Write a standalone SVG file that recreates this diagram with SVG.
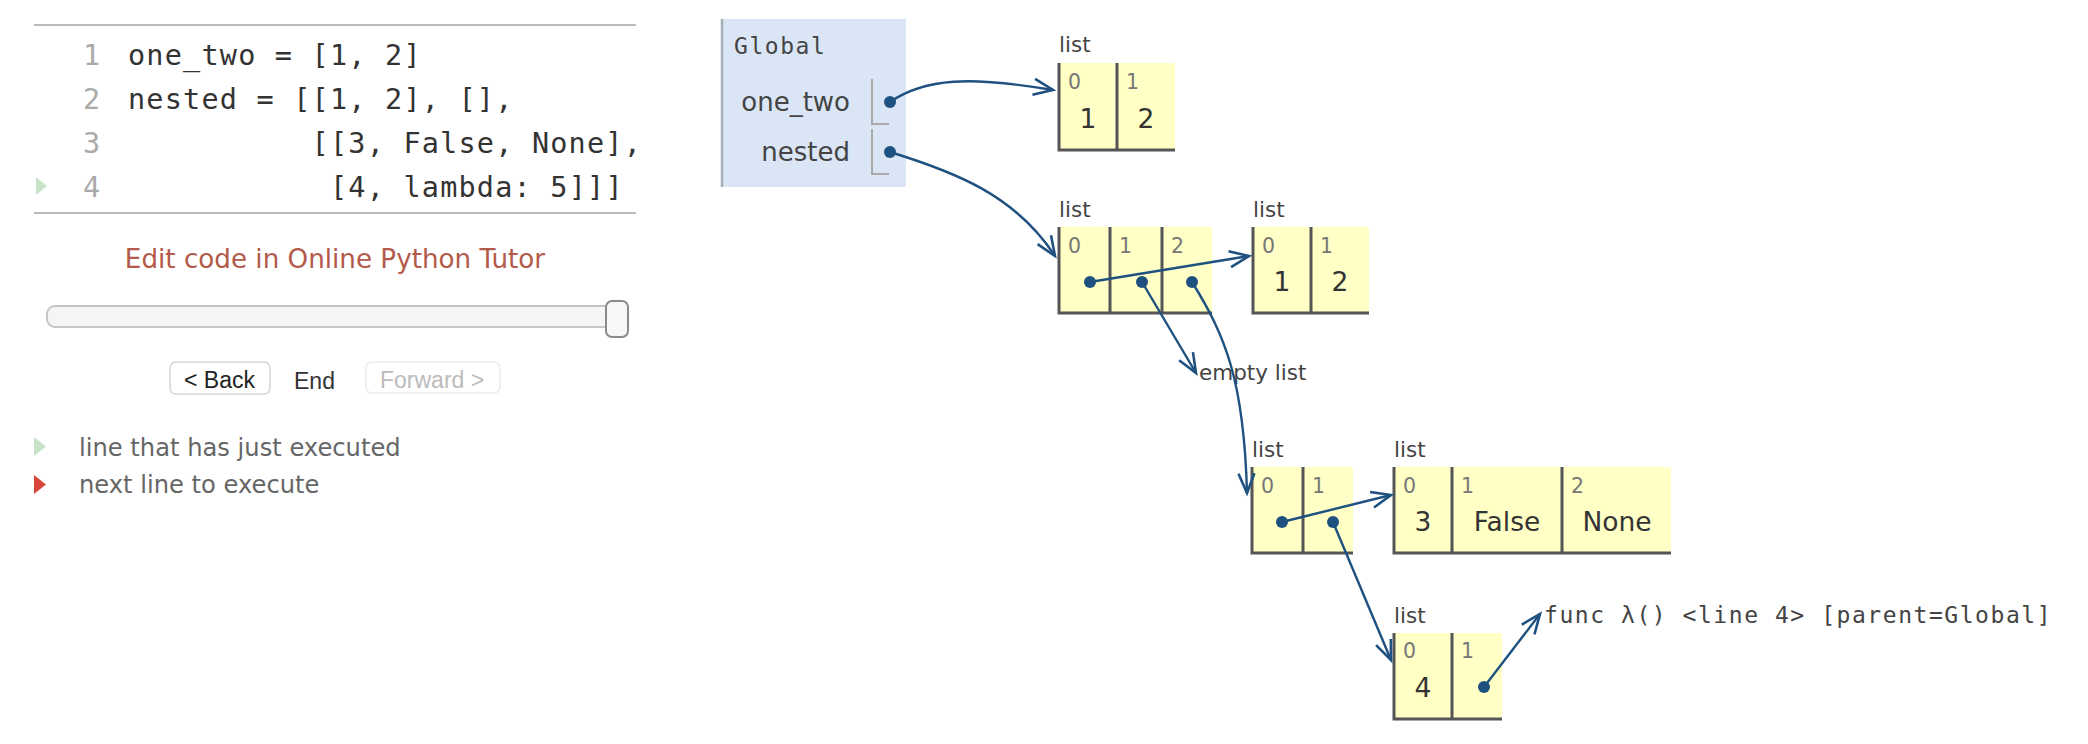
<svg xmlns="http://www.w3.org/2000/svg" width="2088" height="744" viewBox="0 0 2088 744">
<style>
.code{font-family:"DejaVu Sans Mono","Liberation Mono",monospace;font-size:28.5px;letter-spacing:1.2px;fill:#333}
.lno{font-family:"DejaVu Sans Mono","Liberation Mono",monospace;font-size:28.5px;fill:#aaa}
.mono{font-family:"DejaVu Sans Mono","Liberation Mono",monospace;font-size:23px;letter-spacing:1.55px;fill:#444}
.sans{font-family:"DejaVu Sans",Verdana,sans-serif}
.btn{font-family:"Liberation Sans",Arial,sans-serif;font-size:23px}
.hr{stroke:#bbb;stroke-width:2}
.var{font-family:"DejaVu Sans",Verdana,sans-serif;font-size:26px;fill:#444;text-anchor:end}
.brk{fill:none;stroke:#aaa;stroke-width:2}
.lbl{font-family:"DejaVu Sans",Verdana,sans-serif;font-size:21.5px;fill:#444}
.idx{font-family:"DejaVu Sans",Verdana,sans-serif;font-size:20.5px;fill:#777}
.val{font-family:"DejaVu Sans",Verdana,sans-serif;font-size:26.5px;fill:#333;text-anchor:middle}
.cell{fill:#ffffc6}
.bd{stroke:#555;stroke-width:3;fill:none}
.dot{fill:#1f5180}
.conn{fill:none;stroke:#1f5180;stroke-width:2.4;marker-end:url(#arr)}
</style>
<defs>
<marker id="arr" markerUnits="userSpaceOnUse" markerWidth="26" markerHeight="22" refX="21" refY="10" orient="auto">
<path d="M1.5,2 L21,10 L1.5,18" fill="none" stroke="#1f5180" stroke-width="2.6" stroke-linejoin="miter"/>
</marker>
</defs>
<rect width="2088" height="744" fill="#fff"/>

<g id="code">
<line class="hr" x1="34" y1="25" x2="636" y2="25"/>
<line class="hr" x1="34" y1="213" x2="636" y2="213"/>
<text class="lno" x="83" y="65">1</text>
<text class="lno" x="83" y="109">2</text>
<text class="lno" x="83" y="153">3</text>
<text class="lno" x="83" y="197">4</text>
<polygon points="36,177 36,195 47,186" fill="#c8e3c8"/>
<text class="code" x="128" y="65">one_two = [1, 2]</text>
<text class="code" x="128" y="109">nested = [[1, 2], [],</text>
<text class="code" x="311.6" y="153">[[3, False, None],</text>
<text class="code" x="330" y="197">[4, lambda: 5]]]</text>
</g>

<g id="controls">
<text class="sans" x="335" y="268" font-size="26.2" fill="#b35a4a" text-anchor="middle">Edit code in Online Python Tutor</text>
<rect x="47" y="306" width="580" height="21" rx="8" fill="#f5f5f5" stroke="#c5c5c5" stroke-width="2"/>
<rect x="606" y="301" width="22" height="36" rx="6" fill="#f7f7f7" stroke="#8a8a8a" stroke-width="2"/>
<rect x="170" y="362" width="100" height="32" rx="6" fill="#fff" stroke="#d6d6d6" stroke-width="1.5"/>
<text class="btn" x="184" y="388" fill="#222">&lt; Back</text>
<text class="btn" x="294" y="389" font-size="29" fill="#333">End</text>
<rect x="366" y="362" width="134" height="31" rx="6" fill="#fff" stroke="#ebebeb" stroke-width="1.5"/>
<text class="btn" x="380" y="388" fill="#bbb">Forward &gt;</text>
</g>

<g id="legend">
<polygon points="34,437 34,456 46,446.5" fill="#c8e3c8"/>
<text class="sans" x="79" y="455.5" font-size="24.2" fill="#666">line that has just executed</text>
<polygon points="34,475 34,494 46,484.5" fill="#d9473a"/>
<text class="sans" x="79" y="492.5" font-size="24.2" fill="#666">next line to execute</text>
</g>

<g id="frame-global">
<rect x="721" y="19" width="185" height="168" fill="#dae6f6"/>
<line x1="722" y1="19" x2="722" y2="187" stroke="#a5adb6" stroke-width="2.5"/>
<text class="mono" x="734" y="54">Global</text>
<text class="var" x="850" y="111">one_two</text>
<path class="brk" d="M872 79 V124 H889"/>
<text class="var" x="850" y="161">nested</text>
<path class="brk" d="M872 129 V174 H889"/>
<circle class="dot" cx="890" cy="102" r="6"/>
<circle class="dot" cx="890" cy="152" r="6"/>
</g>

<g id="list-one_two">
<text class="lbl" x="1059" y="52">list</text>
<rect class="cell" x="1059" y="63" width="116" height="87"/>
<path class="bd" d="M1059 63 V150 H1175 M1117 63 V150"/>
<text class="idx" x="1068" y="89">0</text>
<text class="idx" x="1126" y="89">1</text>
<text class="val" x="1088" y="128">1</text>
<text class="val" x="1146" y="128">2</text>
</g>

<g id="list-nested">
<text class="lbl" x="1059" y="217">list</text>
<rect class="cell" x="1059" y="227" width="153" height="86"/>
<path class="bd" d="M1059 227 V313 H1212 M1110 227 V313 M1162 227 V313"/>
<text class="idx" x="1068" y="253">0</text>
<text class="idx" x="1119" y="253">1</text>
<text class="idx" x="1171" y="253">2</text>
<circle class="dot" cx="1090" cy="282" r="6"/>
<circle class="dot" cx="1142" cy="282" r="6"/>
<circle class="dot" cx="1192" cy="282" r="6"/>
</g>

<g id="list-12">
<text class="lbl" x="1253" y="217">list</text>
<rect class="cell" x="1253" y="227" width="116" height="86"/>
<path class="bd" d="M1253 227 V313 H1369 M1311 227 V313"/>
<text class="idx" x="1262" y="253">0</text>
<text class="idx" x="1320" y="253">1</text>
<text class="val" x="1282" y="291">1</text>
<text class="val" x="1340" y="291">2</text>
</g>

<g id="empty-list">
<text class="lbl" x="1199" y="380">empty list</text>
</g>

<g id="list-inner">
<text class="lbl" x="1252" y="457">list</text>
<rect class="cell" x="1252" y="467" width="101" height="86"/>
<path class="bd" d="M1252 467 V553 H1353 M1303 467 V553"/>
<text class="idx" x="1261" y="493">0</text>
<text class="idx" x="1312" y="493">1</text>
<circle class="dot" cx="1282" cy="522" r="6"/>
<circle class="dot" cx="1333" cy="522" r="6"/>
</g>

<g id="list-3-false-none">
<text class="lbl" x="1394" y="457">list</text>
<rect class="cell" x="1394" y="467" width="277" height="86"/>
<path class="bd" d="M1394 467 V553 H1671 M1452 467 V553 M1562 467 V553"/>
<text class="idx" x="1403" y="493">0</text>
<text class="idx" x="1461" y="493">1</text>
<text class="idx" x="1571" y="493">2</text>
<text class="val" x="1423" y="531">3</text>
<text class="val" x="1507" y="531">False</text>
<text class="val" x="1617" y="531">None</text>
</g>

<g id="list-4-lambda">
<text class="lbl" x="1394" y="623">list</text>
<rect class="cell" x="1394" y="633" width="108" height="86"/>
<path class="bd" d="M1394 633 V719 H1502 M1452 633 V719"/>
<text class="idx" x="1403" y="658">0</text>
<text class="idx" x="1461" y="658">1</text>
<text class="val" x="1423" y="697">4</text>
<circle class="dot" cx="1484" cy="687" r="6"/>
</g>

<g id="func-lambda">
<text class="mono" x="1544" y="623">func λ() &lt;line 4&gt; [parent=Global]</text>
</g>

<g id="connectors">
<path class="conn" d="M890 102 C925 78, 970 76, 1053 90"/>
<path class="conn" d="M890 152 C955 172, 1015 195, 1055 256"/>
<path class="conn" d="M1090 282 L1249 256"/>
<path class="conn" d="M1142 282 L1196 373"/>
<path class="conn" d="M1192 282 C1225 335, 1244 380, 1247 493"/>
<path class="conn" d="M1282 522 L1391 495"/>
<path class="conn" d="M1333 522 L1391 660"/>
<path class="conn" d="M1484 687 L1540 614"/>
</g>
</svg>
